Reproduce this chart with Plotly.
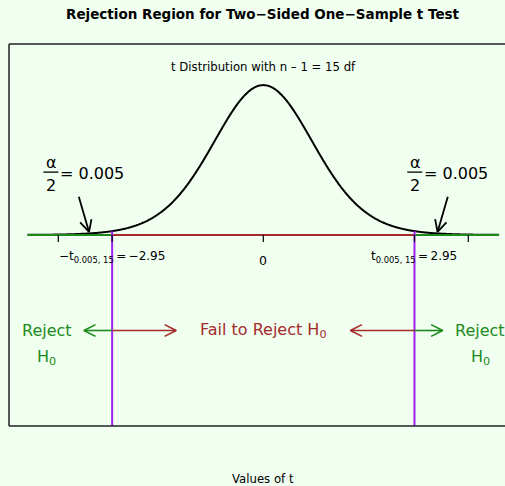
import math
import numpy as np
import plotly.graph_objects as go

# ---- values -------------------------------------------------------------
DF = 15                      # degrees of freedom (n - 1)
T_CRIT = 2.95                # critical value t_{0.005, 15}
HALF_ALPHA = "0.005"         # alpha / 2
T_LIMIT = 4.6                # extent of the drawn density / axis line
TICKS = [-4, -T_CRIT, 0, T_CRIT, 4]

DIAG_TAILS = [(-3.6, 0.1), (3.6, 0.1)]        # alpha/2 pointer arrows
DIAG_TIPS = [(-3.4, 0.008), (3.4, 0.008)]
REGION_Y = -0.25
REJECT_ENDS = [-3.5, 3.5]                      # green arrows from +-T_CRIT
ACCEPT_ENDS = [-1.7, 1.7]                      # red arrows from +-T_CRIT
REJECT_X = [-4.23, 4.23]
ALPHA_LABEL_X = [-3.55, 3.55]
ALPHA_LABEL_Y = 0.162

# ---- page geometry --------------------------------------------------------
W, H = 505, 486
M_L, M_R, M_T, M_B = 9, 0, 44, 60
X_RANGE = [-4.962, 4.716]
Y_RANGE = [-0.5, 0.5]
PLOT_W = W - M_L - M_R
PLOT_H = H - M_T - M_B
PX_X = PLOT_W / (X_RANGE[1] - X_RANGE[0])
PX_Y = PLOT_H / (Y_RANGE[1] - Y_RANGE[0])

BG = "#F0FFF0"
GREEN = "#1E8A1E"
RED = "#A52A2A"
PURPLE = "#A020F0"
FONT = "DejaVu Sans"


def t_pdf(t, df):
    c = math.exp(math.lgamma((df + 1) / 2) - math.lgamma(df / 2)) / math.sqrt(df * math.pi)
    return c * (1 + np.asarray(t, dtype=float) ** 2 / df) ** (-(df + 1) / 2)


def arrow_head(tail, tip, length=13, half_angle=27):
    """Open V head at `tip`, sized in screen pixels."""
    dx = (tip[0] - tail[0]) * PX_X
    dy = (tip[1] - tail[1]) * PX_Y
    theta = math.atan2(dy, dx)
    xs, ys = [], []
    for sgn in (1, -1):
        a = theta + math.pi + sgn * math.radians(half_angle)
        xs.append(tip[0] + length * math.cos(a) / PX_X)
        ys.append(tip[1] + length * math.sin(a) / PX_Y)
    return [xs[0], tip[0], xs[1]], [ys[0], tip[1], ys[1]]


fig = go.Figure()


def add_line(x, y, color, width):
    fig.add_trace(go.Scatter(x=x, y=y, mode="lines", hoverinfo="skip",
                             line=dict(color=color, width=width, simplify=False),
                             showlegend=False))


def add_arrow(tail, tip, color, width=1.6):
    add_line([tail[0], tip[0]], [tail[1], tip[1]], color, width)
    hx, hy = arrow_head(tail, tip)
    add_line(hx, hy, color, width)


# density curve
tt = np.linspace(-T_LIMIT, T_LIMIT, 900)
add_line(tt, t_pdf(tt, DF), "black", 2)

# axis line split into rejection / acceptance parts
add_line([-T_LIMIT, -T_CRIT], [0, 0], GREEN, 2)
add_line([-T_CRIT, T_CRIT], [0, 0], RED, 2)
add_line([T_CRIT, T_LIMIT], [0, 0], GREEN, 2)

# critical value boundaries
for s in (-1, 1):
    add_line([s * T_CRIT, s * T_CRIT], [float(t_pdf(T_CRIT, DF)), Y_RANGE[0]], PURPLE, 2)

# tick marks
tick_len = 7 / PX_Y
tx, ty = [], []
for t in TICKS:
    tx += [t, t, None]
    ty += [0, -tick_len, None]
add_line(tx, ty, "black", 1.2)

# alpha/2 pointers
for tail, tip in zip(DIAG_TAILS, DIAG_TIPS):
    add_arrow(tail, tip, "black", 1.8)

# region arrows
for s, rej, acc in zip((-1, 1), REJECT_ENDS, ACCEPT_ENDS):
    add_arrow((s * T_CRIT, REGION_Y), (rej, REGION_Y), GREEN)
    add_arrow((s * T_CRIT, REGION_Y), (acc, REGION_Y), RED)

ann = []


def text(x, y, s, size, color="black", **kw):
    d = dict(x=x, y=y, xref="x", yref="y", text=s, showarrow=False,
             yanchor="middle", font=dict(family=FONT, size=size, color=color))
    d.update(kw)
    ann.append(d)


def page_text(px_y, s, size, bold=False):
    ann.append(dict(x=(263.3 - M_L) / PLOT_W,
                    y=(H - M_B - px_y) / PLOT_H, xref="paper", yref="paper",
                    xanchor="center", yanchor="middle", showarrow=False,
                    text=f"<b>{s}</b>" if bold else s,
                    font=dict(family=FONT, size=size, color="black")))


# subtitle
text(0, 0.44, "t Distribution with n \u2013 1 = 15 df", 11.7)

# tick labels
text(-T_CRIT, -0.058, "\u2212t<sub>0.005, 15</sub>\u2009=\u2009\u22122.95", 12)
text(0, -0.066, "0", 12.5)
text(T_CRIT, -0.058, "t<sub>0.005, 15</sub>\u2009=\u20092.95", 12)

# alpha / 2 labels
shapes = []
for cx in ALPHA_LABEL_X:
    text(cx, ALPHA_LABEL_Y, "\u03b1", 16, xshift=-30, yshift=10.5)
    text(cx, ALPHA_LABEL_Y, "2", 16, xshift=-30, yshift=-12.3)
    text(cx, ALPHA_LABEL_Y, "= " + HALF_ALPHA, 16, xanchor="left", xshift=-23)
    shapes.append(dict(type="line", xref="x", yref="y", xsizemode="pixel", xanchor=cx,
                       x0=-38, x1=-23, y0=ALPHA_LABEL_Y + 1 / PX_Y, y1=ALPHA_LABEL_Y + 1 / PX_Y,
                       line=dict(color="black", width=1.3)))

# region labels
for rx in REJECT_X:
    text(rx, REGION_Y, "Reject", 16, GREEN)
    text(rx, -0.32, "H<sub>0</sub>", 16, GREEN)
text(0, REGION_Y, "Fail to Reject H<sub>0</sub>", 16, RED)

# title and x label
page_text(14, "Rejection Region for Two\u2212Sided One\u2212Sample t Test", 13.5, bold=True)
page_text(479, "Values of t", 11.7)

# plot frame (left, top, bottom)
for x0, y0, x1, y1 in [(0, 0, 0, 1), (0, 1, 1.05, 1), (0, 0, 1.05, 0)]:
    shapes.append(dict(type="line", xref="paper", yref="paper", x0=x0, y0=y0, x1=x1, y1=y1,
                       line=dict(color="#222222", width=1.5)))

fig.update_layout(
    width=W, height=H,
    margin=dict(l=M_L, r=M_R, t=M_T, b=M_B),
    paper_bgcolor=BG, plot_bgcolor=BG,
    xaxis=dict(range=X_RANGE, visible=False, fixedrange=True),
    yaxis=dict(range=Y_RANGE, visible=False, fixedrange=True),
    annotations=ann, shapes=shapes,
    font=dict(family=FONT),
)

fig.write_html("out.html")
